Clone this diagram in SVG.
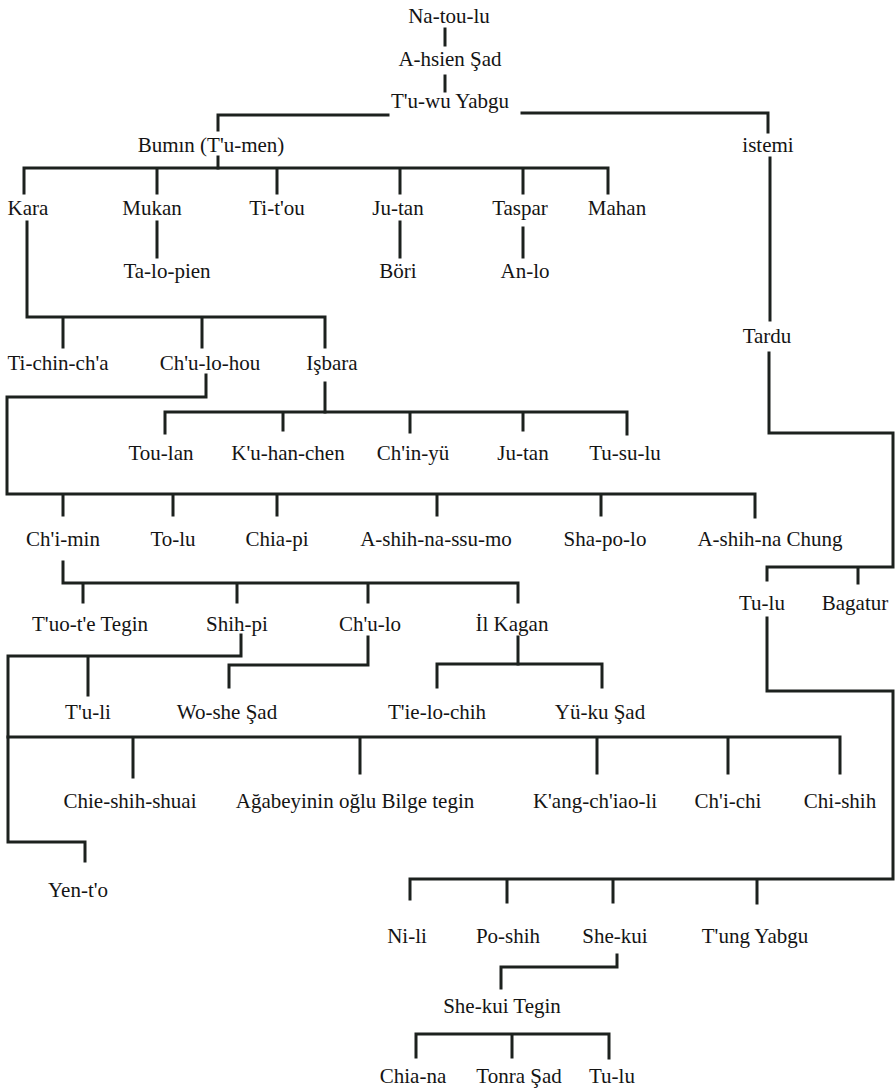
<svg xmlns="http://www.w3.org/2000/svg" width="895" height="1089" viewBox="0 0 895 1089">
<style>
.c{fill:none;stroke:#1c211e;stroke-width:3;stroke-linecap:square;stroke-linejoin:miter}
.t text{font-family:"Liberation Serif","Times New Roman",Times,serif;font-size:21px;fill:#141414;text-anchor:middle}
</style>
<rect width="895" height="1089" fill="#ffffff"/>
<g id="connectors" class="c">
<path d="M445,29V45"/>
<path d="M445,76V91"/>
<path d="M388,115H218V130"/>
<path d="M522,113H768V132"/>
<path d="M218,157V168"/>
<path d="M24,193V168H608V193M157,168V193M277,168V193M400,168V193M523,168V193"/>
<path d="M157,222V257M400,222V257M523,228V257"/>
<path d="M27,222V317H325V347M63,317V347M202,317V347"/>
<path d="M206,375V397H7V494H755V517M63,494V515M173,494V515M277,494V515M437,494V515M601,494V515"/>
<path d="M325,383V412"/>
<path d="M165,433V412H627V434M283,412V430M410,412V432M523,412V430"/>
<path d="M770,158V320"/>
<path d="M769,353V433H893V567H767V580M858,567V583"/>
<path d="M767,618V691H893V879H410V899M507,879V902M613,879V902M757,879V903"/>
<path d="M617,955V967H501V988"/>
<path d="M416,1057V1034H609V1058M512,1034V1057"/>
<path d="M63,562V583H518V602M83,583V602M237,583V602M368,583V602"/>
<path d="M241,635V656H8V842H85V861M88,656V695"/>
<path d="M8,737H840V773M133,737V777M360,737V773M597,737V773M728,737V773"/>
<path d="M368,637V665H229V687"/>
<path d="M518,637V664"/>
<path d="M437,687V664H602V687"/>
</g>
<g class="t" font-family="'Liberation Serif', 'Times New Roman', serif" font-size="21">
<g id="n-natoulu"><text x="449" y="23">Na-tou-lu</text></g>
<g id="n-ahsien"><text x="450" y="66">A-hsien Şad</text></g>
<g id="n-tuwu"><text x="450" y="108">T'u-wu Yabgu</text></g>
<g id="n-bumin"><text x="211" y="152">Bumın (T'u-men)</text></g>
<g id="n-istemi"><text x="768" y="152">istemi</text></g>
<g id="n-kara"><text x="28" y="215">Kara</text></g>
<g id="n-mukan"><text x="152" y="215">Mukan</text></g>
<g id="n-titou"><text x="277" y="215">Ti-t'ou</text></g>
<g id="n-jutan1"><text x="398" y="215">Ju-tan</text></g>
<g id="n-taspar"><text x="520" y="215">Taspar</text></g>
<g id="n-mahan"><text x="617" y="215">Mahan</text></g>
<g id="n-talopien"><text x="167" y="278">Ta-lo-pien</text></g>
<g id="n-bori"><text x="398" y="278">Böri</text></g>
<g id="n-anlo"><text x="525" y="278">An-lo</text></g>
<g id="n-tardu"><text x="767" y="343">Tardu</text></g>
<g id="n-tichincha"><text x="58" y="370">Ti-chin-ch'a</text></g>
<g id="n-chulohou"><text x="210" y="370">Ch'u-lo-hou</text></g>
<g id="n-isbara"><text x="332" y="370">Işbara</text></g>
<g id="n-toulan"><text x="161" y="460">Tou-lan</text></g>
<g id="n-kuhanchen"><text x="288" y="460">K'u-han-chen</text></g>
<g id="n-chinyu"><text x="413" y="460">Ch'in-yü</text></g>
<g id="n-jutan2"><text x="523" y="460">Ju-tan</text></g>
<g id="n-tusulu"><text x="625" y="460">Tu-su-lu</text></g>
<g id="n-chimin"><text x="63" y="546">Ch'i-min</text></g>
<g id="n-tolu"><text x="173" y="546">To-lu</text></g>
<g id="n-chiapi"><text x="277" y="546">Chia-pi</text></g>
<g id="n-ashihnassumo"><text x="436" y="546">A-shih-na-ssu-mo</text></g>
<g id="n-shapolo"><text x="605" y="546">Sha-po-lo</text></g>
<g id="n-ashihnachung"><text x="770" y="546">A-shih-na Chung</text></g>
<g id="n-tulu1"><text x="762" y="610">Tu-lu</text></g>
<g id="n-bagatur"><text x="855" y="610">Bagatur</text></g>
<g id="n-tuotetegin"><text x="90" y="631">T'uo-t'e Tegin</text></g>
<g id="n-shihpi"><text x="237" y="631">Shih-pi</text></g>
<g id="n-chulo"><text x="370" y="631">Ch'u-lo</text></g>
<g id="n-ilkagan"><text x="512" y="631">İl Kagan</text></g>
<g id="n-tuli"><text x="88" y="719">T'u-li</text></g>
<g id="n-wosheshad"><text x="227" y="719">Wo-she Şad</text></g>
<g id="n-tielochih"><text x="437" y="719">T'ie-lo-chih</text></g>
<g id="n-yukushad"><text x="600" y="719">Yü-ku Şad</text></g>
<g id="n-chieshihshuai"><text x="130" y="808">Chie-shih-shuai</text></g>
<g id="n-bilge"><text x="355" y="808">Ağabeyinin oğlu Bilge tegin</text></g>
<g id="n-kangchiaoli"><text x="595" y="808">K'ang-ch'iao-li</text></g>
<g id="n-chichi"><text x="728" y="808">Ch'i-chi</text></g>
<g id="n-chishih"><text x="840" y="808">Chi-shih</text></g>
<g id="n-yento"><text x="78" y="897">Yen-t'o</text></g>
<g id="n-nili"><text x="407" y="943">Ni-li</text></g>
<g id="n-poshih"><text x="508" y="943">Po-shih</text></g>
<g id="n-shekui"><text x="615" y="943">She-kui</text></g>
<g id="n-tungyabgu"><text x="755" y="943">T'ung Yabgu</text></g>
<g id="n-shekuitegin"><text x="502" y="1013">She-kui Tegin</text></g>
<g id="n-chiana"><text x="413" y="1083">Chia-na</text></g>
<g id="n-tonrashad"><text x="519" y="1083">Tonra Şad</text></g>
<g id="n-tulu2"><text x="612" y="1083">Tu-lu</text></g>
</g>
</svg>
